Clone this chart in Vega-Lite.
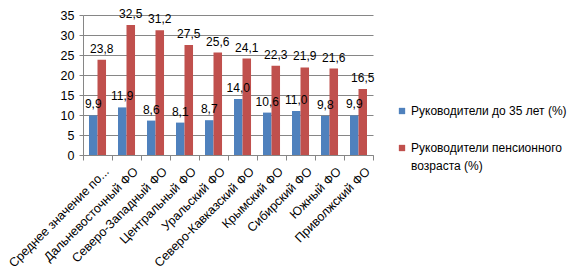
{
  "$schema": "https://vega.github.io/schema/vega-lite/v6.json",
  "width": 290,
  "height": 140,
  "autosize": "none",
  "padding": {"left": 83, "top": 15, "right": 207, "bottom": 121},
  "background": "white",
  "config": {
    "locale": {"number": {"decimal": ",", "thousands": " ", "grouping": [3], "currency": ["", ""]}},
    "view": {"stroke": null},
    "font": "Liberation Sans"
  },
  "data": {
    "values": [
      {"region": "Среднее значение по...", "series": "Руководители до 35 лет (%)", "value": 9.9},
      {"region": "Среднее значение по...", "series": "Руководители пенсионного возраста (%)", "value": 23.8},
      {"region": "Дальневосточный ФО", "series": "Руководители до 35 лет (%)", "value": 11.9},
      {"region": "Дальневосточный ФО", "series": "Руководители пенсионного возраста (%)", "value": 32.5},
      {"region": "Северо-Западный ФО", "series": "Руководители до 35 лет (%)", "value": 8.6},
      {"region": "Северо-Западный ФО", "series": "Руководители пенсионного возраста (%)", "value": 31.2},
      {"region": "Центральный ФО", "series": "Руководители до 35 лет (%)", "value": 8.1},
      {"region": "Центральный ФО", "series": "Руководители пенсионного возраста (%)", "value": 27.5},
      {"region": "Уральский ФО", "series": "Руководители до 35 лет (%)", "value": 8.7},
      {"region": "Уральский ФО", "series": "Руководители пенсионного возраста (%)", "value": 25.6},
      {"region": "Северо-Кавказский ФО", "series": "Руководители до 35 лет (%)", "value": 14.0},
      {"region": "Северо-Кавказский ФО", "series": "Руководители пенсионного возраста (%)", "value": 24.1},
      {"region": "Крымский ФО", "series": "Руководители до 35 лет (%)", "value": 10.6},
      {"region": "Крымский ФО", "series": "Руководители пенсионного возраста (%)", "value": 22.3},
      {"region": "Сибирский ФО", "series": "Руководители до 35 лет (%)", "value": 11.0},
      {"region": "Сибирский ФО", "series": "Руководители пенсионного возраста (%)", "value": 21.9},
      {"region": "Южный ФО", "series": "Руководители до 35 лет (%)", "value": 9.8},
      {"region": "Южный ФО", "series": "Руководители пенсионного возраста (%)", "value": 21.6},
      {"region": "Приволжский ФО", "series": "Руководители до 35 лет (%)", "value": 9.9},
      {"region": "Приволжский ФО", "series": "Руководители пенсионного возраста (%)", "value": 16.5}
    ]
  },
  "encoding": {
    "x": {
      "field": "region",
      "type": "nominal",
      "sort": null,
      "scale": {"paddingInner": 0, "paddingOuter": 0},
      "axis": {
        "title": null,
        "tickBand": "extent",
        "labelAngle": -45,
        "labelAlign": "right",
        "labelBaseline": "middle",
        "labelFontSize": 12.5,
        "labelColor": "#000000",
        "labelPadding": 9,
        "labelOffset": 9,
        "tickSize": 5,
        "tickColor": "#868686",
        "domainColor": "#868686",
        "grid": false,
        "labelOverlap": false,
        "labelLimit": 0
      }
    },
    "xOffset": {
      "field": "series",
      "sort": null,
      "scale": {"paddingInner": 0, "paddingOuter": 0.7}
    },
    "y": {
      "field": "value",
      "type": "quantitative",
      "scale": {"domain": [0, 35]},
      "axis": {
        "title": null,
        "values": [0, 5, 10, 15, 20, 25, 30, 35],
        "labelFontSize": 12.5,
        "labelColor": "#000000",
        "labelPadding": 5,
        "tickSize": 4,
        "tickColor": "#868686",
        "domainColor": "#868686",
        "gridColor": "#868686",
        "gridOpacity": 1
      }
    }
  },
  "layer": [
    {
      "mark": {"type": "bar"},
      "encoding": {
        "color": {
          "field": "series",
          "type": "nominal",
          "sort": null,
          "scale": {"range": ["#4F81BD", "#C0504D"]},
          "legend": {
            "title": null,
            "orient": "none",
            "legendX": 313,
            "legendY": 90,
            "symbolType": "square",
            "symbolSize": 40,
            "symbolStrokeWidth": 0,
            "labelFontSize": 12,
            "labelColor": "#000000",
            "labelLimit": 0,
            "rowPadding": 25,
            "labelOffset": 3,
            "labelExpr": "datum.label == 'Руководители пенсионного возраста (%)' ? ['Руководители пенсионного', 'возраста (%)'] : datum.label",
            "encode": {"labels": {"update": {"lineHeight": {"value": 18}}}}
          }
        }
      }
    },
    {
      "mark": {"type": "text", "baseline": "alphabetic", "dy": -7, "fontSize": 12, "color": "#000000"},
      "encoding": {
        "text": {"field": "value", "type": "quantitative", "format": ".1f"}
      }
    }
  ]
}
